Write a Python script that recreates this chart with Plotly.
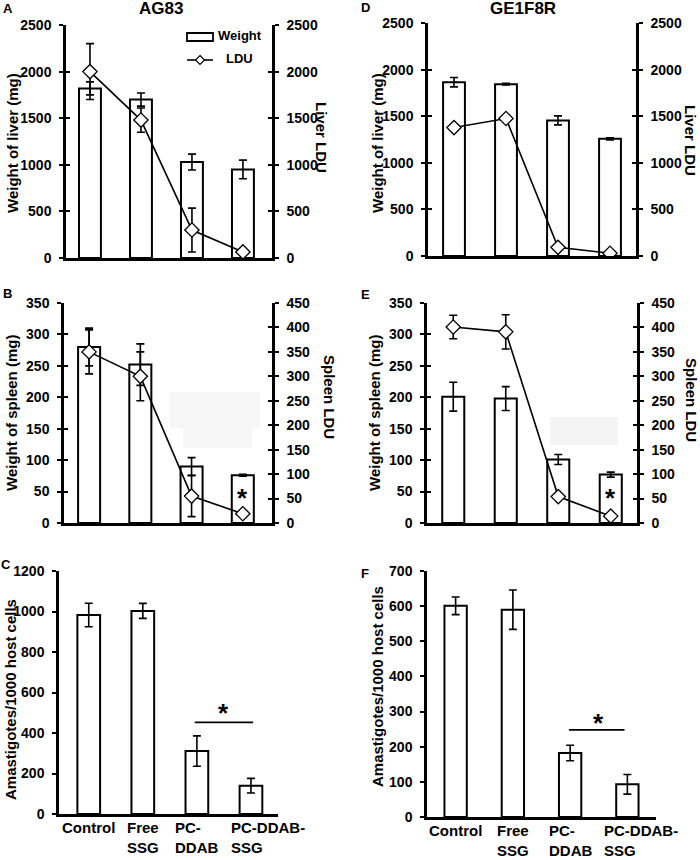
import plotly.graph_objects as go

# ---------------- data ----------------
categories = ["Control", "Free SSG", "PC-DDAB", "PC-DDAB-SSG"]
tick_labels = ["Control", "Free<br>SSG", "PC-<br>DDAB", "PC-DDAB-<br>SSG"]
legend_names = ["Weight", "LDU"]

# AG83
ag_liver_weight = [1820, 1700, 1030, 950]
ag_liver_weight_err = [70, 70, 85, 100]
ag_liver_ldu = [2000, 1480, 300, 65]
ag_liver_ldu_err = [300, 130, 235, 0]
ag_spleen_weight = [280, 252, 90, 76]
ag_spleen_weight_err = [30, 33, 14, 1.5]
ag_spleen_ldu = [350, 300, 55, 19]
ag_spleen_ldu_err = [45, 50, 42, 0]
ag_amastigotes = [983, 1003, 311, 140]
ag_amastigotes_err = [58, 37, 75, 36]
ag_sig = [2, 3, 452]          # bracket between PC-DDAB and PC-DDAB-SSG

# GE1F8R
ge_liver_weight = [1865, 1844, 1455, 1257]
ge_liver_weight_err = [50, 8, 48, 12]
ge_liver_ldu = [1378, 1475, 93, 29]
ge_spleen_weight = [201, 198, 101, 77]
ge_spleen_weight_err = [23, 19, 8, 4]
ge_spleen_ldu = [401, 391, 54, 14]
ge_spleen_ldu_err = [24, 35, 0, 0]
ge_amastigotes = [601, 590, 182, 93]
ge_amastigotes_err = [25, 56, 22, 28]
ge_sig = [2, 3, 248]

liver_range = [0, 2500]
liver_dtick = 500
spleen_w_range = [0, 350]
spleen_ldu_range = [0, 450]
spleen_dtick = 50
ag_am_range = [0, 1200]
ag_am_dtick = 200
ge_am_range = [0, 700]
ge_am_dtick = 100

# ---------------- style ----------------
W, H = 700, 860
FONT = "Arial, Liberation Sans"
TICKFONT = dict(family=FONT, size=14, color="black", weight=700)


def B(s):
    return "<b>" + s + "</b>"


def px(x):
    return x / W


def py(y):
    return 1 - y / H


def xd(a, b):
    return [a / W, b / W]


def yd(top, bottom):
    return [1 - bottom / H, 1 - top / H]


def bar_trace(xa, ya, vals, errs, width):
    return go.Bar(
        x=categories, y=vals, width=width, name=legend_names[0], showlegend=False,
        xaxis=xa, yaxis=ya,
        marker=dict(color="white", line=dict(color="black", width=2)),
        error_y=dict(type="data", array=errs, color="black", thickness=1.6, width=4),
        hoverinfo="skip",
    )


def ldu_trace(xa, ya, vals, errs=None):
    t = go.Scatter(
        x=categories, y=vals, mode="lines+markers", name=legend_names[1], showlegend=False,
        xaxis=xa, yaxis=ya,
        line=dict(color="black", width=1.6),
        marker=dict(symbol="diamond", size=11, color="white",
                    line=dict(color="black", width=1.3)),
        hoverinfo="skip",
    )
    if errs is not None:
        t.error_y = dict(type="data", array=errs, color="black", thickness=1.6, width=4)
    return t


fig = go.Figure()

# Panel A (x, y, y2)
fig.add_trace(bar_trace("x", "y", ag_liver_weight, ag_liver_weight_err, 0.43))
fig.add_trace(ldu_trace("x", "y2", ag_liver_ldu, ag_liver_ldu_err))
# Panel B (x2, y3, y4)
fig.add_trace(bar_trace("x2", "y3", ag_spleen_weight, ag_spleen_weight_err, 0.43))
fig.add_trace(ldu_trace("x2", "y4", ag_spleen_ldu, ag_spleen_ldu_err))
# Panel C (x3, y5)
fig.add_trace(bar_trace("x3", "y5", ag_amastigotes, ag_amastigotes_err, 0.42))
# Panel D (x4, y6, y7)
fig.add_trace(bar_trace("x4", "y6", ge_liver_weight, ge_liver_weight_err, 0.42))
fig.add_trace(ldu_trace("x4", "y7", ge_liver_ldu))
# Panel E (x5, y8, y9)
fig.add_trace(bar_trace("x5", "y8", ge_spleen_weight, ge_spleen_weight_err, 0.42))
fig.add_trace(ldu_trace("x5", "y9", ge_spleen_ldu, ge_spleen_ldu_err))
# Panel F (x6, y10)
fig.add_trace(bar_trace("x6", "y10", ge_amastigotes, ge_amastigotes_err, 0.39))


def xaxis(dom, anchor, rng):
    return dict(domain=dom, anchor=anchor, type="category", range=rng,
                showline=True, linecolor="black", linewidth=2.5, ticks="",
                showticklabels=False, showgrid=False, zeroline=False, fixedrange=True,
                automargin=False)


def yaxis(dom, anchor, rng, dtick, side="left", overlaying=None, ticks="outside",
          showline=True, labels=True, standoff=5):
    d = dict(domain=dom, anchor=anchor, range=rng, dtick=dtick, tick0=0, side=side,
             showline=showline, linecolor="black", linewidth=2.5,
             ticks=ticks, ticklen=4, tickwidth=2.2, tickcolor="black",
             showgrid=False, zeroline=False, showticklabels=labels,
             tickprefix="<b>", ticksuffix="</b>", automargin=False,
             tickfont=TICKFONT, fixedrange=True, ticklabelstandoff=standoff)
    if overlaying:
        d["overlaying"] = overlaying
    return d


domA = (xd(66, 272), yd(25, 258))
domB = (xd(64, 272), yd(303, 523))
domC = (xd(59, 278), yd(571, 814))
domD = (xd(428, 636), yd(23, 256))
domE = (xd(427, 637), yd(303, 523))
domF = (xd(427, 656), yd(571, 817))

layout = dict(
    xaxis=xaxis(domA[0], "y", [-0.47, 3.57]),
    yaxis=yaxis(domA[1], "x", liver_range, liver_dtick),
    yaxis2=yaxis(domA[1], "x", liver_range, liver_dtick, side="right", overlaying="y"),
    xaxis2=xaxis(domB[0], "y3", [-0.49, 3.57]),
    yaxis3=yaxis(domB[1], "x2", spleen_w_range, spleen_dtick),
    yaxis4=yaxis(domB[1], "x2", spleen_ldu_range, spleen_dtick, side="right", overlaying="y3"),
    xaxis3=xaxis(domC[0], "y5", [-0.55, 3.5]),
    yaxis5=yaxis(domC[1], "x3", ag_am_range, ag_am_dtick),
    xaxis4=xaxis(domD[0], "y6", [-0.5, 3.5]),
    yaxis6=yaxis(domD[1], "x4", liver_range, liver_dtick),
    yaxis7=yaxis(domD[1], "x4", liver_range, liver_dtick, side="right", overlaying="y6"),
    xaxis5=xaxis(domE[0], "y8", [-0.5, 3.5]),
    yaxis8=yaxis(domE[1], "x5", spleen_w_range, spleen_dtick),
    yaxis9=yaxis(domE[1], "x5", spleen_ldu_range, spleen_dtick, side="right", overlaying="y8"),
    xaxis6=xaxis(domF[0], "y10", [-0.5, 3.5]),
    yaxis10=yaxis(domF[1], "x6", ge_am_range, ge_am_dtick),
)

# inside-tick twins so ticks cross the axis lines (panels A, B, D, E)
twins = [
    ("y", "x", domA[1], liver_range, liver_dtick, "left"),
    ("y", "x", domA[1], liver_range, liver_dtick, "right"),
    ("y3", "x2", domB[1], spleen_w_range, spleen_dtick, "left"),
    ("y3", "x2", domB[1], spleen_ldu_range, spleen_dtick, "right"),
    ("y6", "x4", domD[1], liver_range, liver_dtick, "left"),
    ("y6", "x4", domD[1], liver_range, liver_dtick, "right"),
    ("y8", "x5", domE[1], spleen_w_range, spleen_dtick, "left"),
    ("y8", "x5", domE[1], spleen_ldu_range, spleen_dtick, "right"),
]
for i, (base, xa, dom, rng, dt, side) in enumerate(twins):
    n = 11 + i
    layout[f"yaxis{n}"] = yaxis(dom, xa, rng, dt, side=side, overlaying=base,
                                ticks="inside", showline=False, labels=False)
    fig.add_trace(go.Scatter(x=[None], y=[None], xaxis=xa, yaxis=f"y{n}",
                             showlegend=False, hoverinfo="skip"))

annotations = []


def txt(text, x, y, size=15, angle=0, xanchor="center", yanchor="middle"):
    annotations.append(dict(text=B(text), x=px(x), y=py(y), xref="paper", yref="paper",
                            showarrow=False, textangle=angle, xanchor=xanchor,
                            yanchor=yanchor,
                            font=dict(family=FONT, size=size, color="black", weight=700)))


# panel letters and titles
txt("A", 8, 9, 13)
txt("AG83", 161, 9, 17)
txt("D", 365, 8, 13)
txt("GE1F8R", 523, 9, 17)
txt("B", 7, 293, 13)
txt("E", 365, 295, 13)
txt("C", 6, 564, 13)
txt("F", 365, 573, 13)

# axis titles
txt("Weight of liver (mg)", 12, 143, 15, -90)
txt("Liver LDU", 322, 137, 15, 90)
txt("Weight of liver (mg)", 377, 143, 15, -90)
txt("Liver LDU", 691, 140, 15, 90)
txt("Weight of spleen (mg)", 12, 413, 15, -90)
txt("Spleen LDU", 330, 397, 15, 90)
txt("Weight of spleen (mg)", 375, 413, 15, -90)
txt("Spleen LDU", 691, 400, 15, 90)
txt("Amastigotes/1000 host cells", 10, 700, 15, -90)
txt("Amastigotes/1000 host cells", 377, 687, 15, -90)

# legend (panel A) text
txt(legend_names[0], 216, 36, 13, xanchor="left")
txt(legend_names[1], 224, 59, 13, xanchor="left")

# category labels (left-aligned lines, centered block) for C and F
for xa, ytop, last_shift in (("x3", 817, 17), ("x6", 820, 14)):
    for i, (cat, lab) in enumerate(zip(categories, tick_labels)):
        annotations.append(dict(text=B(lab.replace("<br>", "</b><br><b>")), x=cat, xref=xa,
                                y=py(ytop), yref="paper",
                                showarrow=False, xanchor="center", yanchor="top",
                                align="left", xshift=last_shift if i == 3 else 0,
                                font=dict(family=FONT, size=15, color="black",
                                          weight=700)))

STAR = dict(family=FONT, size=26, color="black", weight=700)
annotations.append(dict(text=B("*"), x=categories[3], xref="x2", y=40, yref="y3",
                        showarrow=False, yanchor="middle", font=STAR))
annotations.append(dict(text=B("*"), x=categories[3], xref="x5", y=40, yref="y8",
                        showarrow=False, yanchor="middle", font=STAR))
annotations.append(dict(text=B("*"), x=2.5, xref="x3", y=ag_sig[2] + 45, yref="y5",
                        showarrow=False, yanchor="middle", font=STAR))
annotations.append(dict(text=B("*"), x=2.5, xref="x6", y=ge_sig[2] + 20, yref="y10",
                        showarrow=False, yanchor="middle", font=STAR))

# legend symbols (paper coordinates)
dcx, dcy, dr = 200, 60, 4.5
diamond = (f"M {px(dcx)} {py(dcy - dr)} L {px(dcx + dr)} {py(dcy)} "
           f"L {px(dcx)} {py(dcy + dr)} L {px(dcx - dr)} {py(dcy)} Z")

shapes = [
    dict(type="line", xref="x3", yref="y5", x0=ag_sig[0] - 0.04, x1=ag_sig[1] + 0.04,
         y0=ag_sig[2], y1=ag_sig[2], line=dict(color="black", width=1.8)),
    dict(type="line", xref="x6", yref="y10", x0=ge_sig[0] - 0.02, x1=ge_sig[1] - 0.05,
         y0=ge_sig[2], y1=ge_sig[2], line=dict(color="black", width=1.8)),
    # legend
    dict(type="rect", xref="paper", yref="paper", x0=px(187), x1=px(213),
         y0=py(41), y1=py(33), fillcolor="white", line=dict(color="black", width=1.8)),
    dict(type="line", xref="paper", yref="paper", x0=px(187), x1=px(213),
         y0=py(60), y1=py(60), line=dict(color="black", width=1.6)),
    dict(type="path", xref="paper", yref="paper", path=diamond, fillcolor="white",
         line=dict(color="black", width=1.2)),
    # faint scan artefacts
    dict(type="rect", xref="paper", yref="paper", x0=px(170), x1=px(260),
         y0=py(428), y1=py(392), fillcolor="#f7f7f7", line=dict(width=0),
         layer="below"),
    dict(type="rect", xref="paper", yref="paper", x0=px(183), x1=px(252),
         y0=py(448), y1=py(420), fillcolor="#f7f7f7", line=dict(width=0),
         layer="below"),
    dict(type="rect", xref="paper", yref="paper", x0=px(550), x1=px(618),
         y0=py(445), y1=py(417), fillcolor="#f4f4f4", line=dict(width=0),
         layer="below"),
]

fig.update_layout(
    **layout,
    width=W, height=H, autosize=False,
    margin=dict(l=0, r=0, t=0, b=0, pad=0, autoexpand=False),
    paper_bgcolor="white", plot_bgcolor="rgba(0,0,0,0)",
    font=dict(family=FONT, size=13, color="black"),
    showlegend=False,
    annotations=annotations,
    shapes=shapes,
    barmode="overlay",
)

page_js = (
    "var gd = document.getElementById('{plot_id}');"
    "var wrap = gd.parentNode;"
    "wrap.style.height = '860px'; wrap.style.width = '700px';"
    "wrap.style.overflow = 'hidden'; wrap.style.lineHeight = '0';"
    "document.body.style.margin = '0';"
    "document.body.style.height = '860px';"
    "document.body.style.overflow = 'hidden';"
    "document.documentElement.style.height = '860px';"
    "document.documentElement.style.overflow = 'hidden';"
)

fig.write_html("out.html", config={"displayModeBar": False, "responsive": False},
               post_script=page_js)
